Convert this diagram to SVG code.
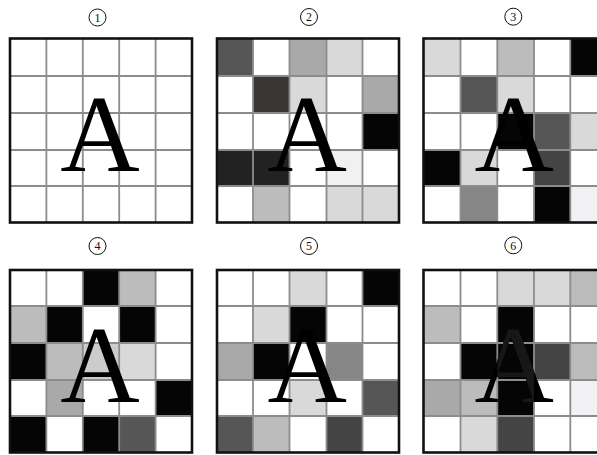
<svg xmlns="http://www.w3.org/2000/svg" width="597" height="455" viewBox="0 0 597 455">
<defs>
<style>
.bg{fill:#fff}
.k{fill:#050505}.d1{fill:#3b3636}.d0{fill:#222}.d2{fill:#565656}.d3{fill:#444}.g1{fill:#868686}.g2{fill:#a9a9a9}.g3{fill:#bcbcbc}.g4{fill:#cccccc}.l{fill:#d9d9d9}.vl{fill:#f1f1f4}
.grid{stroke:#8c8c8c;stroke-width:1.8;fill:none}
.border{stroke:#111;stroke-width:2.6;fill:none}
.A{font-family:"Liberation Serif","Times New Roman",serif;font-size:110px;fill:#000;text-anchor:middle}
.num circle{fill:#fff;stroke:#111;stroke-width:1}
.num text{font-family:"Liberation Serif",serif;font-size:12px;fill:#111;text-anchor:middle}
</style>
<clipPath id="c6"><rect x="497.3" y="306" width="36.7" height="110"/></clipPath>
</defs>

<g id="labels">
<g class="num" id="n1"><circle cx="97.5" cy="17.5" r="8.5"/><text x="97.5" y="21.7">1</text></g>
<g class="num" id="n2"><circle cx="309" cy="17" r="8.5"/><text x="309" y="21.2">2</text></g>
<g class="num" id="n3"><circle cx="513.3" cy="16.7" r="8.5"/><text x="513.3" y="20.9">3</text></g>
<g class="num" id="n4"><circle cx="97.5" cy="246" r="8.5"/><text x="97.5" y="250.2">4</text></g>
<g class="num" id="n5"><circle cx="309" cy="246" r="8.5"/><text x="309" y="250.2">5</text></g>
<g class="num" id="n6"><circle cx="513.3" cy="245.3" r="8.5"/><text x="513.3" y="249.5">6</text></g>
</g>

<!-- Panel 1 -->
<g id="panel1">
<rect class="bg" x="10" y="38.5" width="182" height="184"/>
<path class="grid" d="M46.4 38.5V222.5M82.8 38.5V222.5M119.2 38.5V222.5M155.6 38.5V222.5M10 76H192M10 113H192M10 150H192M10 186H192"/>
<rect class="border" x="10" y="38.5" width="182" height="184"/>
<text class="A" x="100" y="171">A</text>
</g>

<!-- Panel 2 -->
<g id="panel2">
<rect class="bg" x="217" y="38.5" width="182" height="184"/>
<rect class="d2" x="217" y="38.5" width="36" height="37.5"/>
<rect class="g2" x="289.5" y="38.5" width="37" height="37.5"/>
<rect class="l" x="326.5" y="38.5" width="36" height="37.5"/>
<rect class="d1" x="253" y="76" width="36.5" height="37"/>
<rect class="l" x="289.5" y="76" width="37" height="37"/>
<rect class="g2" x="362.5" y="76" width="36.5" height="37"/>
<rect class="k" x="362.5" y="113" width="36.5" height="37"/>
<rect class="d0" x="217" y="150" width="72.5" height="36"/>
<rect class="vl" x="326.5" y="150" width="36" height="36"/>
<rect class="g3" x="253" y="186" width="36.5" height="36.5"/>
<rect class="l" x="326.5" y="186" width="72.5" height="36.5"/>
<path class="grid" d="M253 38.5V222.5M289.5 38.5V222.5M326.5 38.5V222.5M362.5 38.5V222.5M217 76H399M217 113H399M217 150H399M217 186H399"/>
<rect class="border" x="217" y="38.5" width="182" height="184"/>
<text class="A" x="307.3" y="171">A</text>
</g>

<!-- Panel 3 -->
<g id="panel3">
<rect class="bg" x="423.5" y="38.5" width="183.2" height="184"/>
<rect class="l" x="423.5" y="38.5" width="37" height="37.5"/>
<rect class="g3" x="497.3" y="38.5" width="36.7" height="37.5"/>
<rect class="k" x="570.3" y="38.5" width="36.4" height="37.5"/>
<rect class="d2" x="460.5" y="76" width="36.8" height="37"/>
<rect class="l" x="497.3" y="76" width="36.7" height="37"/>
<rect class="k" x="497.3" y="113" width="36.7" height="37"/>
<rect class="d2" x="534" y="113" width="36.3" height="37"/>
<rect class="l" x="570.3" y="113" width="36.4" height="37"/>
<rect class="k" x="423.5" y="150" width="37" height="36"/>
<rect class="l" x="460.5" y="150" width="36.8" height="36"/>
<rect class="d3" x="534" y="150" width="36.3" height="36"/>
<rect class="g1" x="460.5" y="186" width="36.8" height="36.5"/>
<rect class="k" x="534" y="186" width="36.3" height="36.5"/>
<rect class="vl" x="570.3" y="186" width="36.4" height="36.5"/>
<path class="grid" d="M460.5 38.5V222.5M497.3 38.5V222.5M534 38.5V222.5M570.3 38.5V222.5M423.5 76H606.7M423.5 113H606.7M423.5 150H606.7M423.5 186H606.7"/>
<rect class="border" x="423.5" y="38.5" width="183.2" height="184"/>
<text class="A" x="514.2" y="171">A</text>
</g>

<!-- Panel 4 -->
<g id="panel4">
<rect class="bg" x="10" y="270" width="182" height="182.5"/>
<rect class="k" x="82.8" y="270" width="36.4" height="36"/>
<rect class="g3" x="119.2" y="270" width="36.4" height="36"/>
<rect class="g3" x="10" y="306" width="36.4" height="37"/>
<rect class="k" x="46.4" y="306" width="36.4" height="37"/>
<rect class="k" x="119.2" y="306" width="36.4" height="37"/>
<rect class="k" x="10" y="343" width="36.4" height="37"/>
<rect class="g3" x="46.4" y="343" width="36.4" height="37"/>
<rect class="g4" x="82.8" y="343" width="36.4" height="37"/>
<rect class="l" x="119.2" y="343" width="36.4" height="37"/>
<rect class="g2" x="46.4" y="380" width="36.4" height="36"/>
<rect class="k" x="155.6" y="380" width="36.4" height="36"/>
<rect class="k" x="10" y="416" width="36.4" height="36.5"/>
<rect class="k" x="82.8" y="416" width="36.4" height="36.5"/>
<rect class="d2" x="119.2" y="416" width="36.4" height="36.5"/>
<path class="grid" d="M46.4 270V452.5M82.8 270V452.5M119.2 270V452.5M155.6 270V452.5M10 306H192M10 343H192M10 380H192M10 416H192"/>
<rect class="border" x="10" y="270" width="182" height="182.5"/>
<text class="A" x="100" y="401.5">A</text>
</g>

<!-- Panel 5 -->
<g id="panel5">
<rect class="bg" x="217" y="270" width="182" height="182.5"/>
<rect class="l" x="289.5" y="270" width="37" height="36"/>
<rect class="k" x="362.5" y="270" width="36.5" height="36"/>
<rect class="l" x="253" y="306" width="36.5" height="37"/>
<rect class="k" x="289.5" y="306" width="37" height="37"/>
<rect class="g2" x="217" y="343" width="36" height="37"/>
<rect class="k" x="253" y="343" width="36.5" height="37"/>
<rect class="g1" x="326.5" y="343" width="36" height="37"/>
<rect class="l" x="289.5" y="380" width="37" height="36"/>
<rect class="d2" x="362.5" y="380" width="36.5" height="36"/>
<rect class="d2" x="217" y="416" width="36" height="36.5"/>
<rect class="g3" x="253" y="416" width="36.5" height="36.5"/>
<rect class="d3" x="326.5" y="416" width="36" height="36.5"/>
<path class="grid" d="M253 270V452.5M289.5 270V452.5M326.5 270V452.5M362.5 270V452.5M217 306H399M217 343H399M217 380H399M217 416H399"/>
<rect class="border" x="217" y="270" width="182" height="182.5"/>
<text class="A" x="307.3" y="401.5">A</text>
</g>

<!-- Panel 6 -->
<g id="panel6">
<rect class="bg" x="423.5" y="270" width="183.2" height="182.5"/>
<rect class="l" x="497.3" y="270" width="73" height="36"/>
<rect class="g3" x="570.3" y="270" width="36.4" height="36"/>
<rect class="g3" x="423.5" y="306" width="37" height="37"/>
<rect class="k" x="497.3" y="306" width="36.7" height="37"/>
<rect class="k" x="460.5" y="343" width="73.5" height="37"/>
<rect class="d3" x="534" y="343" width="36.3" height="37"/>
<rect class="g3" x="570.3" y="343" width="36.4" height="37"/>
<rect class="g2" x="423.5" y="380" width="37" height="36"/>
<rect class="g3" x="460.5" y="380" width="36.8" height="36"/>
<rect class="k" x="497.3" y="380" width="36.7" height="36"/>
<rect class="vl" x="570.3" y="380" width="36.4" height="36"/>
<rect class="l" x="460.5" y="416" width="36.8" height="36.5"/>
<rect class="d3" x="497.3" y="416" width="36.7" height="36.5"/>
<path class="grid" d="M460.5 270V452.5M497.3 270V452.5M534 270V452.5M570.3 270V452.5M423.5 306H606.7M423.5 343H606.7M423.5 380H606.7M423.5 416H606.7"/>
<rect class="border" x="423.5" y="270" width="183.2" height="182.5"/>
<text class="A" x="514.2" y="401.5">A</text>
<text class="A" x="514.2" y="401.5" clip-path="url(#c6)" style="fill:#171717">A</text>
</g>
</svg>
